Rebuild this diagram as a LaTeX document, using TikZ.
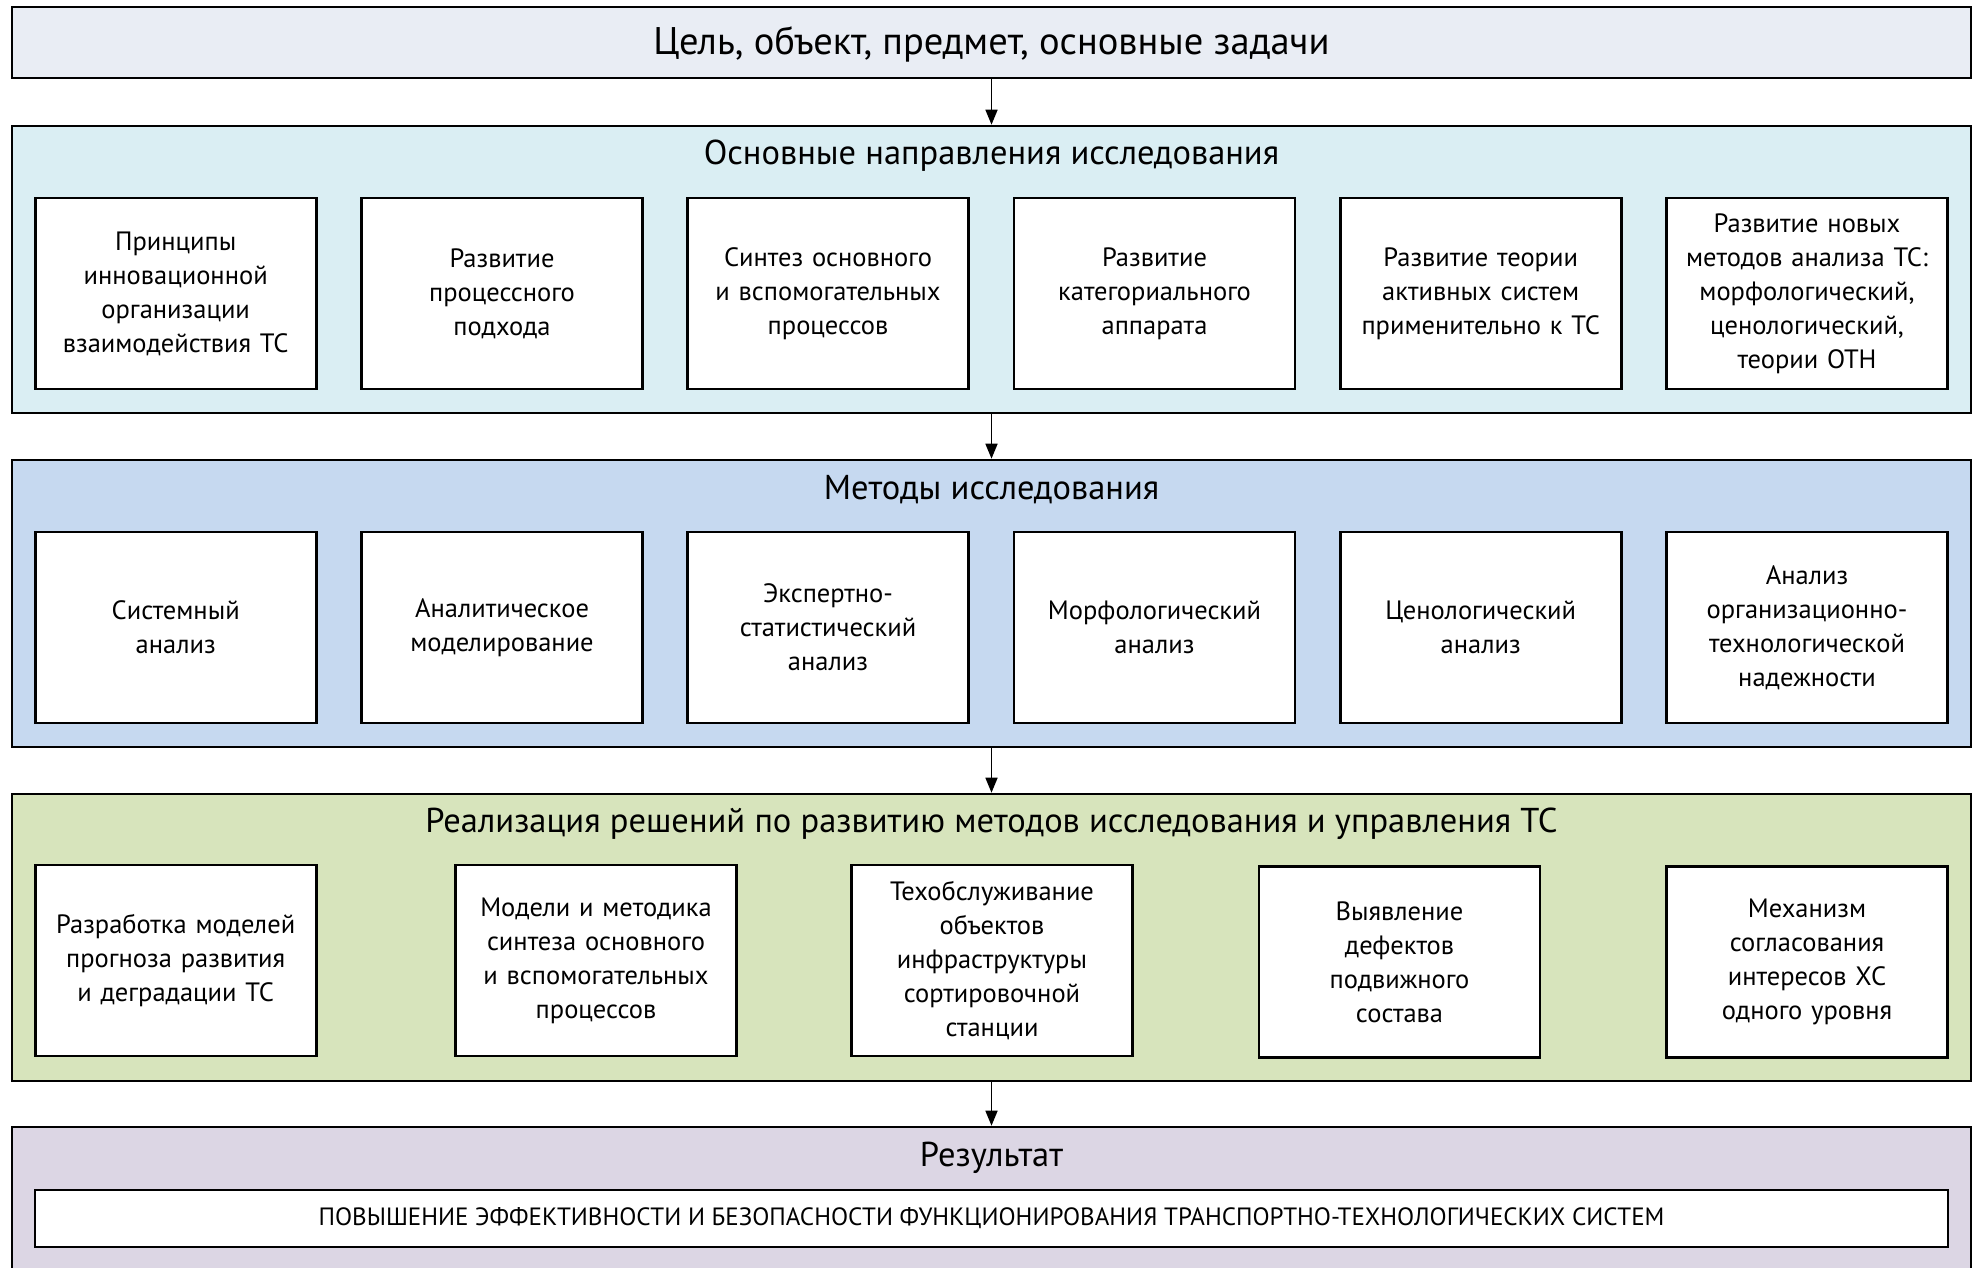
\documentclass[tikz,border=0pt]{standalone}
\usepackage{fontspec}
\setmainfont{PT Sans}
\usetikzlibrary{arrows.meta}
\definecolor{cTop}{HTML}{E9EDF4}
\definecolor{cDir}{HTML}{DAEEF3}
\definecolor{cMeth}{HTML}{C6D9F0}
\definecolor{cReal}{HTML}{D7E4BC}
\definecolor{cRes}{HTML}{DCD6E4}
\tikzset{
  panel/.style={draw, line width=2.6pt, minimum width=1959pt, inner sep=0pt},
  ptitle/.style={font=\fontsize{34.5}{40}\selectfont, inner sep=0pt},
  item/.style={draw, fill=white, line width=2.6pt, minimum width=281pt, minimum height=191pt,
    text width=275pt, align=center, inner sep=0pt, font=\fontsize{26.5}{34}\selectfont},
  arr/.style={line width=1.6pt, -{Triangle[length=15pt,width=12pt]}}
}
\begin{document}
\begin{tikzpicture}[x=1pt,y=-1pt]
\useasboundingbox (0,0) rectangle (1975,1268);
% panels
\node[panel, fill=cTop, minimum height=71pt] (top) at (991.5,42.5) {};
\node[ptitle, font=\fontsize{38.5}{44}\selectfont] (toptext) at (991.5,44) {Цель, объект, предмет, основные задачи};
\node[panel, fill=cDir, minimum height=287pt] (dir) at (991.5,269.5) {};
\node[panel, fill=cMeth, minimum height=287pt] (meth) at (991.5,603.5) {};
\node[panel, fill=cReal, minimum height=287pt] (real) at (991.5,937.5) {};
\node[panel, fill=cRes, minimum height=175pt] (res) at (991.5,1214.5) {};
% titles
\node[ptitle] (dirtitle) at (991.5,156) {Основные направления исследования};
\node[ptitle] (methtitle) at (991.5,490) {Методы исследования};
\node[ptitle] (realtitle) at (991.5,824) {Реализация решений по развитию методов исследования и управления ТС};
\node[ptitle] (restitle) at (991.5,1158) {Результат};
% directions
\node[item] (d1) at (175.7,293.5) {Принципы\\инновационной\\организации\\взаимодействия ТС};
\node[item] (d2) at (502,293.5) {Развитие\\процессного\\подхода};
\node[item] (d3) at (828,293.5) {Синтез основного\\и вспомогательных\\процессов};
\node[item] (d4) at (1154.5,293.5) {Развитие\\категориального\\аппарата};
\node[item] (d5) at (1480.7,293.5) {Развитие теории\\активных систем\\применительно к ТС};
\node[item] (d6) at (1807,293.5) {Развитие новых\\методов анализа ТС:\\морфологический,\\ценологический,\\теории ОТН};
% methods
\node[item] (m1) at (175.7,627.5) {Системный\\анализ};
\node[item] (m2) at (502,627.5) {Аналитическое\\моделирование};
\node[item] (m3) at (828,627.5) {Экспертно-\\статистический\\анализ};
\node[item] (m4) at (1154.5,627.5) {Морфологический\\анализ};
\node[item] (m5) at (1480.7,627.5) {Ценологический\\анализ};
\node[item] (m6) at (1807,627.5) {Анализ\\организационно-\\технологической\\надежности};
% realization
\node[item] (r1) at (175.7,960.5) {Разработка моделей\\прогноза развития\\и деградации ТС};
\node[item] (r2) at (596,960.5) {Модели и методика\\синтеза основного\\и вспомогательных\\процессов};
\node[item] (r3) at (992,960.5) {Техобслуживание\\объектов\\инфраструктуры\\сортировочной\\станции};
\node[item] (r4) at (1399.5,962) {Выявление\\дефектов\\подвижного\\состава};
\node[item] (r5) at (1807,962) {Механизм\\согласования\\интересов ХС\\одного уровня};
% result
\node[draw, fill=white, line width=2.6pt, minimum width=1913pt, minimum height=57pt, inner sep=0pt,
  font=\fontsize{25}{30}\selectfont] (r) at (991.5,1218.5)
  {ПОВЫШЕНИЕ ЭФФЕКТИВНОСТИ И БЕЗОПАСНОСТИ ФУНКЦИОНИРОВАНИЯ ТРАНСПОРТНО-ТЕХНОЛОГИЧЕСКИХ СИСТЕМ};
% arrows
\draw[arr] (top.south) -- (dir.north);
\draw[arr] (dir.south) -- (meth.north);
\draw[arr] (meth.south) -- (real.north);
\draw[arr] (real.south) -- (res.north);
\end{tikzpicture}
\end{document}
